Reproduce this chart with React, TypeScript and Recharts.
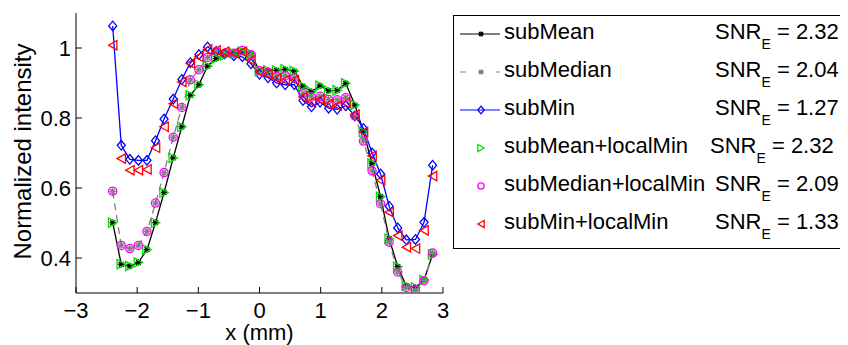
import React from 'react'
import { ComposedChart, Line, XAxis, YAxis } from 'recharts'

// sample positions along x (mm)
const xs = [
  -2.40, -2.26, -2.12, -1.98, -1.84, -1.70, -1.56, -1.41, -1.27, -1.13,
  -0.99, -0.85, -0.71, -0.57, -0.42, -0.28, -0.14, 0.00, 0.14, 0.28,
  0.42, 0.57, 0.71, 0.85, 0.99, 1.13, 1.27, 1.41, 1.56, 1.70,
  1.84, 1.98, 2.12, 2.26, 2.40, 2.55, 2.69, 2.83,
]

const subMean = [
  0.501, 0.382, 0.377, 0.387, 0.424, 0.501, 0.587, 0.686, 0.775, 0.865,
  0.895, 0.948, 0.970, 0.979, 0.985, 0.989, 0.984, 0.934, 0.936, 0.936,
  0.939, 0.934, 0.891, 0.875, 0.892, 0.878, 0.879, 0.899, 0.837, 0.760,
  0.670, 0.575, 0.455, 0.375, 0.320, 0.316, 0.337, 0.410,
]

const subMedian = [
  0.590, 0.436, 0.427, 0.436, 0.476, 0.557, 0.644, 0.745, 0.830, 0.909,
  0.938, 0.973, 0.990, 0.985, 0.985, 0.993, 0.981, 0.935, 0.930, 0.919,
  0.921, 0.915, 0.870, 0.860, 0.862, 0.853, 0.852, 0.858, 0.806, 0.734,
  0.649, 0.555, 0.445, 0.360, 0.316, 0.308, 0.335, 0.414,
]

const subMin = [
  1.063, 0.722, 0.682, 0.679, 0.679, 0.735, 0.797, 0.854, 0.910, 0.958,
  0.981, 1.003, 0.990, 0.983, 0.978, 0.975, 0.955, 0.925, 0.915, 0.900,
  0.895, 0.895, 0.850, 0.832, 0.845, 0.828, 0.825, 0.835, 0.806, 0.770,
  0.700, 0.640, 0.548, 0.486, 0.452, 0.453, 0.502, 0.665,
]

const subMeanLocal = [
  0.501, 0.382, 0.377, 0.387, 0.424, 0.501, 0.587, 0.686, 0.775, 0.865,
  0.895, 0.948, 0.970, 0.979, 0.985, 0.989, 0.984, 0.934, 0.936, 0.936,
  0.939, 0.934, 0.891, 0.875, 0.892, 0.878, 0.879, 0.899, 0.837, 0.760,
  0.670, 0.575, 0.455, 0.375, 0.320, 0.316, 0.337, 0.410,
]

const subMedianLocal = [
  0.591, 0.436, 0.427, 0.436, 0.476, 0.557, 0.644, 0.745, 0.830, 0.909,
  0.938, 0.973, 0.990, 0.985, 0.985, 0.993, 0.981, 0.935, 0.930, 0.919,
  0.921, 0.915, 0.870, 0.860, 0.862, 0.853, 0.852, 0.858, 0.806, 0.734,
  0.649, 0.555, 0.445, 0.360, 0.316, 0.308, 0.335, 0.414,
]

const subMinLocal = [
  1.008, 0.684, 0.651, 0.651, 0.653, 0.715, 0.775, 0.841, 0.903, 0.956,
  0.975, 0.996, 0.993, 0.989, 0.986, 0.989, 0.965, 0.932, 0.925, 0.913,
  0.908, 0.908, 0.860, 0.846, 0.853, 0.839, 0.836, 0.843, 0.810, 0.760,
  0.692, 0.622, 0.531, 0.464, 0.431, 0.427, 0.479, 0.634,
]

const seriesNames = ['subMean', 'subMedian', 'subMin', 'subMean+localMin', 'subMedian+localMin', 'subMin+localMin']
const snrValues = ['2.32', '2.04', '1.27', '2.32', '2.09', '1.33']
const xTicks = [-3, -2, -1, 0, 1, 2, 3]
const yTicks = [0.4, 0.6, 0.8, 1]

const FONT = '"Liberation Sans", Arial, sans-serif'

type Kind = 'star' | 'diamond' | 'right' | 'circle' | 'left'

const styles = [
  { key: 'subMean', color: '#000000', line: true, dash: undefined, marker: 'star' as Kind },
  { key: 'subMedian', color: '#808080', line: true, dash: '7 5', marker: 'star' as Kind },
  { key: 'subMin', color: '#0000ff', line: true, dash: undefined, marker: 'diamond' as Kind },
  { key: 'subMeanLocal', color: '#00e000', line: false, dash: undefined, marker: 'right' as Kind },
  { key: 'subMedianLocal', color: '#ff00ff', line: false, dash: undefined, marker: 'circle' as Kind },
  { key: 'subMinLocal', color: '#ff0000', line: false, dash: undefined, marker: 'left' as Kind },
]

function Marker({ kind, cx, cy, color, s = 1 }: { kind: Kind; cx: number; cy: number; color: string; s?: number }) {
  if (kind === 'star') {
    const r = 3.2 * s, d = 2.4 * s
    return (
      <g stroke={color} strokeWidth={1.4}>
        <line x1={cx - r} y1={cy} x2={cx + r} y2={cy} />
        <line x1={cx} y1={cy - r} x2={cx} y2={cy + r} />
        <line x1={cx - d} y1={cy - d} x2={cx + d} y2={cy + d} />
        <line x1={cx - d} y1={cy + d} x2={cx + d} y2={cy - d} />
      </g>
    )
  }
  if (kind === 'diamond') {
    const w = 4 * s, h = 4.8 * s
    return <polygon points={`${cx},${cy - h} ${cx + w},${cy} ${cx},${cy + h} ${cx - w},${cy}`} fill="none" stroke={color} strokeWidth={1.3} />
  }
  if (kind === 'circle') {
    return <circle cx={cx} cy={cy} r={4.1 * s} fill="none" stroke={color} strokeWidth={1.3} />
  }
  const dir = kind === 'right' ? 1 : -1
  const w = 4.2 * s, h = 4.7 * s
  return (
    <polygon
      points={`${cx - dir * w},${cy - h} ${cx + dir * w},${cy} ${cx - dir * w},${cy + h}`}
      fill="none"
      stroke={color}
      strokeWidth={1.3}
    />
  )
}

const rows = xs.map((x, i) => ({
  x,
  subMean: subMean[i],
  subMedian: subMedian[i],
  subMin: subMin[i],
  subMeanLocal: subMeanLocal[i],
  subMedianLocal: subMedianLocal[i],
  subMinLocal: subMinLocal[i],
}))

const fmt = (v: number) => String(v).replace('-', '\u2212')

function LegendBox() {
  return (
    <div
      style={{
        position: 'absolute',
        left: 445,
        top: 7,
        width: 395,
        height: 234,
        boxSizing: 'border-box',
        border: '1px solid #000',
        background: '#fff',
        fontFamily: FONT,
        fontSize: 22,
        color: '#000',
      }}
    >
      <svg width={60} height={232} style={{ position: 'absolute', left: 0, top: 0 }}>
        {styles.map((st, i) => {
          const cy = 18 + 38 * i
          return (
            <g key={st.key}>
              {st.line && (
                <line x1={6} x2={46} y1={cy} y2={cy} stroke={st.color} strokeWidth={1.2} strokeDasharray={st.dash ? '6 12' : undefined} />
              )}
              <Marker kind={st.marker} cx={27} cy={cy} color={st.color} s={st.line ? 0.8 : 0.75} />
            </g>
          )
        })}
      </svg>
      {seriesNames.map((name, i) => (
        <React.Fragment key={name}>
          <span style={{ position: 'absolute', left: 50, top: 5 + 38 * i, lineHeight: '22px', whiteSpace: 'nowrap' }}>{name}</span>
          <span style={{ position: 'absolute', left: i === 3 ? 256 : 261, top: 5 + 38 * i, lineHeight: '22px', whiteSpace: 'nowrap' }}>
            SNR<span style={{ fontSize: 14, position: 'relative', top: 10 }}>E</span> = {snrValues[i]}
          </span>
        </React.Fragment>
      ))}
    </div>
  )
}

export default function App() {
  return (
    <div style={{ position: 'relative', width: 840, height: 337, fontFamily: FONT }}>
      <ComposedChart width={840} height={337} data={rows} margin={{ top: 5, right: 405, bottom: 0, left: 8 }}>
        <XAxis
          dataKey="x"
          type="number"
          domain={[-3, 3]}
          ticks={xTicks}
          interval={0}
          allowDataOverflow
          height={52}
          tickSize={-6}
          tickMargin={15}
          tickFormatter={fmt}
          tick={{ fill: '#000', fontSize: 22, fontFamily: FONT }}
          axisLine={{ stroke: '#000' }}
          tickLine={{ stroke: '#000' }}
          label={(p: any) => (
            <text x={p.viewBox.x + p.viewBox.width / 2} y={p.viewBox.y + 47} textAnchor="middle" fontSize={22} fontFamily={FONT} fill="#000">
              x (mm)
            </text>
          )}
        />
        <XAxis
          xAxisId="top"
          orientation="top"
          type="number"
          domain={[-3, 3]}
          ticks={xTicks}
          interval={0}
          allowDataOverflow
          height={0}
          tickSize={-6}
          tick={false}
          axisLine={{ stroke: '#000' }}
          tickLine={{ stroke: '#000' }}
        />
        <YAxis
          type="number"
          domain={[0.3, 1.1]}
          ticks={yTicks}
          interval={0}
          allowDataOverflow
          width={60}
          tickSize={-6}
          tickMargin={11}
          tickFormatter={fmt}
          tick={{ fill: '#000', fontSize: 22, fontFamily: FONT }}
          axisLine={{ stroke: '#000' }}
          tickLine={{ stroke: '#000' }}
          label={(p: any) => {
            const x = p.viewBox.x + 15
            const y = p.viewBox.y + p.viewBox.height / 2 - 1.5
            return (
              <text x={x} y={y} transform={`rotate(-90, ${x}, ${y})`} textAnchor="middle" fontSize={24} fontFamily={FONT} fill="#000">
                Normalized intensity
              </text>
            )
          }}
        />
        <YAxis
          yAxisId="right"
          orientation="right"
          type="number"
          domain={[0.3, 1.1]}
          ticks={yTicks}
          interval={0}
          allowDataOverflow
          width={0}
          tickSize={-6}
          tick={false}
          axisLine={{ stroke: '#000' }}
          tickLine={{ stroke: '#000' }}
        />
        {styles.map((st) => (
          <Line
            key={st.key}
            dataKey={st.key}
            type="linear"
            stroke={st.line ? st.color : 'none'}
            strokeWidth={1.3}
            strokeDasharray={st.dash}
            isAnimationActive={false}
            activeDot={false}
            dot={(p: any) => (
              <g key={`${st.key}-${p.index}`}>
                <Marker kind={st.marker} cx={p.cx} cy={p.cy} color={st.color} />
              </g>
            )}
          />
        ))}
      </ComposedChart>
      <LegendBox />
    </div>
  )
}
